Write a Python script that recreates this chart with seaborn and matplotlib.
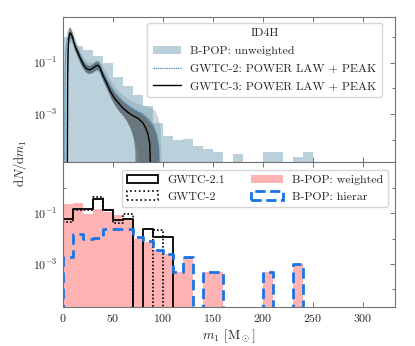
import numpy as np
import matplotlib
matplotlib.use("Agg")
import matplotlib.pyplot as plt
import seaborn as sns
from matplotlib.patches import Patch
from matplotlib.lines import Line2D
from matplotlib.ticker import FixedLocator, NullFormatter

# ---------------- data ----------------
# top panel: B-POP unweighted histogram
top_edges = [0, 10, 20, 30, 40, 50, 60, 70, 80, 90, 100, 110, 120, 130, 140,
             150, 160, 170, 180, 190, 200, 210, 220, 230, 240, 250]
bpop_unweighted = [0.98, 0.45, 0.32, 0.18, 0.10, 0.028, 0.0126, 0.0056, 0.0021,
                   4.5e-4, 1.35e-4, 1.0e-4, 1.07e-4, 6.0e-5, 4.2e-5, 3.4e-5, 0,
                   2.8e-5, 0, 0, 3.5e-5, 3.5e-5, 0, 2.1e-5, 3.5e-5]

# GWTC-3 power law + peak (log10 dN/dm1)
g3_med_m = [4.6, 5.0, 5.5, 6.0, 7.0, 8.0, 10, 12, 15, 18, 21, 24, 27, 30, 33, 35,
            37, 40, 44, 48, 52, 56, 60, 65, 70, 75, 80, 83, 85, 87, 88.3]
g3_med = [-6, -1.5, -0.5, -0.1, 0.15, 0.15, -0.02, -0.32, -0.6, -0.86, -1.1,
          -1.24, -1.28, -1.22, -1.13, -1.1, -1.17, -1.48, -1.8, -2.14, -2.4,
          -2.58, -2.76, -2.93, -3.06, -3.16, -3.33, -3.55, -3.75, -4.15, -6]
g3_hi_m = [4.4, 4.8, 5.3, 6, 7, 8, 10, 12, 15, 18, 21, 24, 27, 30, 33, 35, 37, 40,
           44, 48, 52, 56, 60, 65, 70, 75, 80, 85, 90, 93, 96, 98]
g3_hi = [-6, -1.0, -0.2, 0.2, 0.38, 0.36, 0.16, -0.14, -0.43, -0.7, -0.94, -1.08,
         -1.13, -1.07, -0.98, -0.95, -1.02, -1.31, -1.62, -1.92, -2.16, -2.35,
         -2.5, -2.67, -2.8, -2.9, -3.02, -3.2, -3.45, -3.7, -4.2, -6]
g3_lo_m = [4.8, 5.2, 5.8, 6.5, 7.5, 8.5, 10, 12, 15, 18, 21, 24, 27, 30, 33, 35,
           37, 40, 44, 48, 52, 56, 60, 64, 68, 71, 72.5, 73.5]
g3_lo = [-6, -1.8, -0.7, -0.2, -0.05, -0.06, -0.2, -0.48, -0.77, -1.03, -1.26,
         -1.39, -1.44, -1.4, -1.31, -1.28, -1.35, -1.66, -2.0, -2.35, -2.65,
         -2.88, -3.05, -3.25, -3.55, -3.95, -4.4, -6]

# GWTC-2 power law + peak (log10 dN/dm1)
g2_med_m = [1.9, 2.3, 3, 4, 5, 7, 9, 12, 15, 20, 25, 30, 34, 37, 40, 45, 50, 55,
            60, 65, 70, 75, 80, 85, 90, 94, 96, 97]
g2_med = [-6, -1.5, -0.7, -0.25, -0.05, 0.08, 0.04, -0.24, -0.56, -0.98, -1.2,
          -1.18, -1.08, -1.12, -1.38, -1.75, -2.05, -2.3, -2.5, -2.65, -2.78,
          -2.9, -3.0, -3.15, -3.4, -3.8, -4.3, -6]
g2_hi_m = [1.7, 2.2, 3, 4, 5, 7, 9, 12, 15, 18, 21, 24, 27, 30, 33, 36, 40, 44,
           48, 52, 56, 60, 65, 70, 75, 80, 85, 90, 93, 96, 98, 99.5]
g2_hi = [-6, -1.2, -0.4, 0.0, 0.25, 0.35, 0.3, 0.05, -0.3, -0.6, -0.82, -0.95,
         -1.0, -0.98, -0.92, -0.9, -1.1, -1.4, -1.68, -1.92, -2.1, -2.25, -2.4,
         -2.52, -2.6, -2.67, -2.72, -2.8, -2.9, -3.2, -3.7, -6]
g2_lo_m = [2.5, 3, 4, 5, 7, 9, 12, 15, 18, 21, 24, 27, 30, 33, 36, 40, 44, 48,
           52, 56, 60, 64, 68, 72, 75, 77]
g2_lo = [-6, -1.5, -0.6, -0.3, -0.2, -0.22, -0.5, -0.8, -1.1, -1.3, -1.42, -1.45,
         -1.42, -1.35, -1.35, -1.65, -2.0, -2.35, -2.6, -2.85, -3.05, -3.3, -3.6,
         -4.0, -4.4, -6]

# bottom panel histograms
bot_edges = [0, 10, 20, 30, 40, 50, 60, 70, 80, 90, 100, 110, 120, 130, 140,
             150, 160, 170, 180, 190, 200, 210, 220, 230, 240]
bpop_weighted = [0.23, 0.26, 0.091, 0.145, 0.117, 0.085, 0.060, 0.010, 0.0076,
                 0.0035, 0.0025, 4.8e-4, 0.00186, 0, 4.8e-4, 4.8e-4, 0, 0, 0, 0,
                 4.8e-4, 0, 0, 1.0e-3]
bpop_hierar = [0.00195, 0.0158, 0.0095, 0.0102, 0.0234, 0.0234, 0.0234, 0.012,
               0.0079, 0.0035, 0.0025, 4.8e-4, 0.00186, 0, 4.8e-4, 4.8e-4, 0, 0,
               0, 0, 4.8e-4, 0, 0, 1.0e-3]
gwtc_edges = [0, 10, 20, 30, 40, 50, 60, 70, 80, 90, 100, 110]
gwtc21 = [0.060, 0.151, 0.151, 0.38, 0.132, 0.056, 0.060, 0, 0.024, 0.012, 0.012]
gwtc2 = [0.044, 0.135, 0.135, 0.44, 0.132, 0.043, 0.091, 0, 0, 0.022, 0]

# ---------------- style ----------------
sns.set_style("ticks")
plt.rcParams.update({
    "font.family": "serif",
    "font.serif": ["cmr10", "DejaVu Serif"],
    "mathtext.fontset": "cm",
    "axes.formatter.use_mathtext": True,
    "font.size": 8.6,
    "axes.edgecolor": "0.45",
    "axes.linewidth": 0.8,
})

c_unw = "#bad0da"
c_g2 = "#7f9fae"
c_pink = "#ffb3b3"
c_hier = "#1a74e6"

fig = plt.figure(figsize=(4.15, 3.46), dpi=100)
ax1 = fig.add_axes([0.151, 0.5325, 0.801, 0.4195])
ax2 = fig.add_axes([0.151, 0.113, 0.801, 0.4195], sharex=ax1)
for ax in (ax1, ax2):
    ax.set_yscale("log")


def centers(edges):
    return [(a + b) / 2 for a, b in zip(edges[:-1], edges[1:])]


def outline(ax, edges, vals, **kw):
    # pad with empty bins so the outline closes down to the axis
    e = [edges[0] - 10] + list(edges) + [edges[-1] + 10]
    v = [0] + list(vals) + [0]
    sns.histplot(x=centers(e), weights=v, bins=e, element="step", fill=False,
                 ax=ax, **kw)


# ---------------- top panel ----------------
sns.histplot(x=centers(top_edges), weights=bpop_unweighted, bins=top_edges,
             element="step", fill=True, color=c_unw, alpha=1.0, linewidth=0,
             ax=ax1)


def band(ax, m_hi, hi, m_lo, lo, **kw):
    xs = list(m_hi) + list(m_lo)[::-1]
    ys = [10 ** v for v in list(hi) + list(lo)[::-1]]
    ax.fill(xs, ys, linewidth=0, **kw)


band(ax1, g2_hi_m, g2_hi, g2_lo_m, g2_lo, color=c_g2, alpha=0.4, zorder=2)
band(ax1, g3_hi_m, g3_hi, g3_lo_m, g3_lo, color="#222222", alpha=0.45, zorder=3)
sns.lineplot(x=g2_med_m, y=[10 ** v for v in g2_med], ax=ax1, color="#3d86b3",
             linestyle=(0, (1.2, 0.8)), linewidth=0.8, zorder=4, sort=False)
sns.lineplot(x=g3_med_m, y=[10 ** v for v in g3_med], ax=ax1, color="k",
             linewidth=1.0, zorder=5, sort=False)

# ---------------- bottom panel ----------------
sns.histplot(x=centers(bot_edges), weights=bpop_weighted, bins=bot_edges,
             element="step", fill=True, color=c_pink, alpha=1.0, linewidth=0,
             ax=ax2)
outline(ax2, gwtc_edges, gwtc21, color="k", linewidth=1.3)
outline(ax2, gwtc_edges, gwtc2, color="k", linewidth=1.2,
        linestyle=(0, (1, 1.2)))
outline(ax2, bot_edges, bpop_hierar, color=c_hier, linewidth=2.0,
        linestyle=(0, (3.8, 2)))

# ---------------- axes ----------------
ax1.set_ylim(1.4e-5, 6.2)
ax2.set_ylim(2.0e-5, 11)
ax1.set_xlim(0, 332)
for ax in (ax1, ax2):
    ax.set_ylabel("")
    ax.set_xlabel("")
    ax.yaxis.set_major_locator(FixedLocator([1e-3, 1e-1]))
    ax.yaxis.set_minor_locator(FixedLocator([1e-4, 1e-2, 1e0]))
    ax.yaxis.set_minor_formatter(NullFormatter())
    ax.set_xticks([0, 50, 100, 150, 200, 250, 300])
    ax.tick_params(which="both", direction="in", top=True, right=True,
                   color="0.45", width=0.7)
    ax.tick_params(which="major", length=3.5)
    ax.tick_params(which="minor", length=2.5)
    for s in ax.spines.values():
        s.set_visible(True)
plt.setp(ax1.get_xticklabels(), visible=False)

ax2.set_xlabel(r"$m_1$ [M$_\odot$]", fontsize=9.5, labelpad=3)
fig.text(0.048, 0.53, r"$\mathrm{d}N/\mathrm{d}m_1$", rotation=90,
         ha="center", va="center", fontsize=9.2)

# legends
h1 = [Patch(facecolor=c_unw, edgecolor="none"),
      Line2D([], [], color="#3d86b3", linestyle=(0, (1.2, 0.8)), linewidth=0.8),
      Line2D([], [], color="k", linewidth=1.0)]
l1 = ["B-POP: unweighted", "GWTC-2: POWER LAW + PEAK", "GWTC-3: POWER LAW + PEAK"]
leg1 = ax1.legend(h1, l1, title="ID4H", loc="upper right",
                  bbox_to_anchor=(0.962, 0.958), borderaxespad=0,
                  handlelength=2.3, fontsize=8.6, title_fontsize=8.6,
                  labelspacing=0.62, borderpad=0.5)

h2 = [Patch(facecolor="none", edgecolor="k", linewidth=1.3),
      Patch(facecolor="none", edgecolor="k", linewidth=1.2, linestyle=":"),
      Patch(facecolor=c_pink, edgecolor="none"),
      Patch(facecolor="none", edgecolor=c_hier, linewidth=2.0, linestyle="--")]
l2 = ["GWTC-2.1", "GWTC-2", "B-POP: weighted", "B-POP: hierar"]
leg2 = ax2.legend(h2, l2, ncol=2, loc="upper right",
                  bbox_to_anchor=(0.979, 0.945), borderaxespad=0,
                  handlelength=2.6, fontsize=8.6, labelspacing=0.55,
                  columnspacing=2.2)

fig.savefig("out.png", dpi=100)
